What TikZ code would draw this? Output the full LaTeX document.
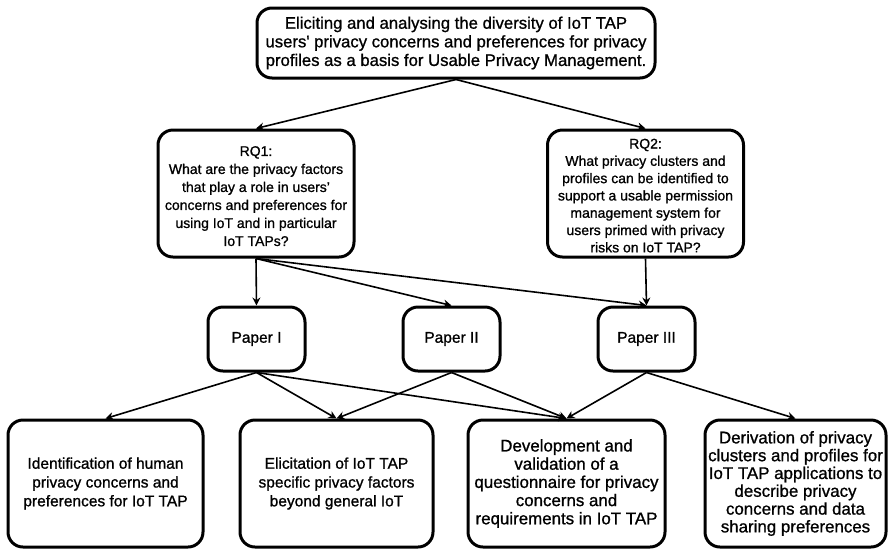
\documentclass[tikz,border=0pt]{standalone}
\usepackage{fontspec}
\setmainfont{Liberation Sans}
\newfontfamily\heavy[FakeBold=1.0]{Liberation Sans}
\usetikzlibrary{arrows.meta}
\begin{document}
\begin{tikzpicture}[x=1pt,y=-1pt,
  box/.style={draw=black,line width=3pt,rounded corners=15pt,align=center,inner sep=0pt},
  fA/.style={font=\heavy\fontsize{16.7}{18.6}\selectfont},
  fB/.style={font=\heavy\fontsize{14}{18}\selectfont},
  fBB/.style={font=\heavy\fontsize{14}{17.3}\selectfont},
  fC/.style={font=\heavy\fontsize{15.5}{18.8}\selectfont},
  fD/.style={font=\heavy\fontsize{16.9}{18.2}\selectfont},
  fE/.style={font=\heavy\fontsize{16.9}{17.8}\selectfont},
  conn/.style={line width=1.6pt,-{Stealth[length=8pt,width=8pt]}}]
\useasboundingbox (0,0) rectangle (888,550);
\node[box,fA,minimum width=398pt,minimum height=70pt] (top) at (456,43) {Eliciting and analysing the diversity of IoT TAP\\users' privacy concerns and preferences for privacy\\profiles as a basis for Usable Privacy Management.};
\node[box,fB,minimum width=196pt,minimum height=127pt] (rq1) at (256,193.5) {\rule{0pt}{15pt}RQ1:\\What are the privacy factors\\that play a role in users’\\concerns and preferences for\\using IoT and in particular\\IoT TAPs?};
\node[box,fBB,minimum width=196pt,minimum height=127pt] (rq2) at (645.5,193.5) {\rule{0pt}{14pt}RQ2:\\What privacy clusters and\\profiles can be identified to\\support a usable permission\\management system for\\users primed with privacy\\risks on IoT TAP?};
\node[box,fC,minimum width=97pt,minimum height=64pt] (p1) at (256.5,339) {Paper I};
\node[box,fC,minimum width=97pt,minimum height=64pt] (p2) at (451.5,339) {Paper II};
\node[box,fC,minimum width=97pt,minimum height=64pt] (p3) at (646.5,339) {Paper III};
\node[box,fC,minimum width=195pt,minimum height=127pt] (b1) at (105.5,483.5) {Identification of human\\privacy concerns and\\preferences for IoT TAP};
\node[box,fC,minimum width=193pt,minimum height=127pt] (b2) at (336.5,483.5) {Elicitation of IoT TAP\\specific privacy factors\\beyond general IoT};
\node[box,fD,minimum width=197pt,minimum height=127pt] (b3) at (566.5,483.5) {Development and\\validation of a\\questionnaire for privacy\\concerns and\\requirements in IoT TAP};
\node[box,fE,minimum width=181pt,minimum height=127pt] (b4) at (795.5,483.5) {Derivation of privacy\\clusters and profiles for\\IoT TAP applications to\\describe privacy\\concerns and data\\sharing preferences};
\draw[conn] (top.south) -- (rq1.north);
\draw[conn] (top.south) -- (rq2.north);
\draw[conn] (rq1.south) -- (p1.north);
\draw[conn] (rq1.south) -- (p2.north);
\draw[conn] (rq1.south) -- (p3.north);
\draw[conn] (rq2.south) -- (p3.north);
\draw[conn] (p1.south) -- (b1.north);
\draw[conn] (p1.south) -- (b2.north);
\draw[conn] (p1.south) -- (b3.north);
\draw[conn] (p2.south) -- (b2.north);
\draw[conn] (p2.south) -- (b3.north);
\draw[conn] (p3.south) -- (b3.north);
\draw[conn] (p3.south) -- (b4.north);
\end{tikzpicture}
\end{document}
